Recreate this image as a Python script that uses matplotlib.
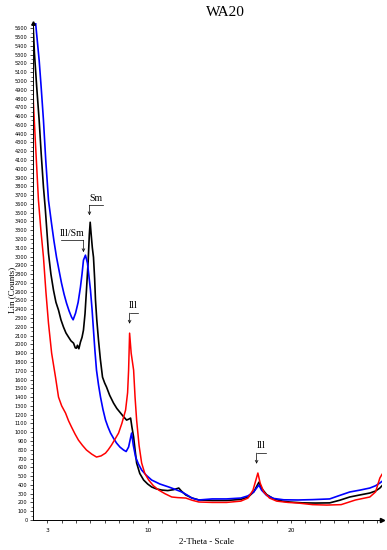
import numpy as np
import matplotlib.pyplot as plt
from matplotlib.ticker import MultipleLocator, FixedLocator, FuncFormatter

# 2-theta (deg) / counts
black_x = [2.00, 2.01, 2.10, 2.26, 2.43, 2.57, 2.73, 2.85, 3.08, 3.25, 3.43, 3.60, 3.78, 3.95,
           4.13, 4.30, 4.48, 4.65, 4.83, 4.95, 5.03, 5.10, 5.20, 5.31, 5.42, 5.52, 5.63, 5.73,
           5.85, 5.93, 5.99, 6.06, 6.14, 6.22, 6.30, 6.36, 6.45, 6.57, 6.70, 6.85, 7.00, 7.13,
           7.35, 7.62, 7.85, 8.11, 8.30, 8.53, 8.70, 8.81, 8.90, 9.02, 9.12, 9.23, 9.45, 9.72,
           10.00, 10.28, 10.60, 10.98, 11.40, 11.80, 12.17, 12.35, 12.66, 13.10, 13.57, 14.5,
           15.5, 16.5, 17.0, 17.4, 17.76, 17.95, 18.3, 18.8, 19.4, 19.9, 20.8, 21.7, 22.7, 23.4,
           24.1, 24.8, 25.5, 25.9, 26.2, 26.35]
black_y = [5800, 5633, 5315, 4928, 4552, 4176, 3790, 3560, 3038, 2800, 2617, 2480, 2390, 2280,
           2196, 2130, 2083, 2040, 2014, 1960, 1957, 1990, 1950, 2026, 2080, 2162, 2350, 2617,
           2950, 3250, 3391, 3250, 3100, 2993, 2750, 2504, 2280, 2048, 1830, 1627, 1560, 1514,
           1420, 1331, 1270, 1218, 1180, 1138, 1150, 1161, 1060, 945, 800, 649, 530, 455,
           410, 376, 355, 341, 335, 345, 364, 330, 285, 250, 228, 222,
           222, 235, 260, 320, 430, 360, 290, 240, 215, 205, 195, 193, 195, 225,
           262, 285, 307, 330, 364, 390]

blue_x = [2.00, 2.19, 2.43, 2.57, 2.73, 2.89, 3.08, 3.29, 3.46, 3.64, 3.82, 3.99, 4.17, 4.34,
          4.52, 4.69, 4.80, 4.97, 5.15, 5.31, 5.42, 5.52, 5.66, 5.80, 5.90, 6.01, 6.12, 6.22,
          6.32, 6.43, 6.57, 6.71, 6.88, 7.06, 7.23, 7.41, 7.62, 7.83, 8.07, 8.32, 8.50, 8.67,
          8.80, 8.88, 9.00, 9.16, 9.35, 9.58, 9.90, 10.28, 10.85, 11.47, 11.90, 12.38, 12.75,
          13.08, 13.57, 14.5, 15.5, 16.5, 17.0, 17.4, 17.76, 17.95, 18.3, 18.8, 19.5, 20.5,
          21.5, 22.7, 23.4, 24.1, 24.8, 25.5, 25.9, 26.2, 26.35]
blue_y = [6300, 5645, 5235, 4928, 4552, 4097, 3642, 3380, 3180, 2993, 2840, 2697, 2570, 2469,
          2380, 2310, 2280, 2356, 2480, 2652, 2800, 2959, 3016, 2925, 2780, 2617, 2400, 2162,
          1930, 1707, 1540, 1400, 1260, 1138, 1060, 990, 930, 876, 830, 797, 780, 831,
          930, 990, 850, 717, 640, 569, 510, 455, 410, 376, 350, 319, 285,
          250, 228, 240, 240, 250, 275, 320, 398, 340, 280, 245, 230, 228,
          232, 240, 280, 319, 340, 364, 390, 421, 440]

red_x = [2.00, 2.03, 2.15, 2.26, 2.38, 2.55, 2.73, 2.90, 3.08, 3.30, 3.57, 3.78, 4.00, 4.27,
         4.48, 4.69, 4.93, 5.17, 5.45, 5.73, 6.10, 6.43, 6.75, 7.06, 7.25, 7.48, 7.72, 7.97,
         8.20, 8.46, 8.60, 8.67, 8.74, 8.85, 9.02, 9.12, 9.23, 9.40, 9.58, 9.80, 10.07, 10.40,
         10.77, 11.20, 11.68, 12.10, 12.66, 13.1, 13.57, 14.5, 15.5, 16.5, 17.0, 17.35, 17.69,
         17.85, 18.1, 18.5, 19.0, 19.8, 20.5, 21.5, 22.5, 23.5, 24.5, 25.5, 25.9, 26.2, 26.35]
red_y = [4900, 4746, 4359, 4017, 3642, 3300, 2993, 2600, 2242, 1900, 1627, 1400, 1300, 1218,
         1130, 1058, 980, 910, 850, 797, 750, 717, 730, 762, 800, 854, 920, 990,
         1100, 1252, 1450, 1707, 2128, 1900, 1707, 1400, 1138, 850, 649, 530, 455, 390,
         341, 300, 262, 255, 250, 225, 205, 200, 200, 215, 250, 340, 535,
         420, 320, 250, 215, 200, 193, 175, 170, 175, 228, 262, 320, 478, 520]

# peak labels: text, arrow x, bracket y, arrow tip y, other end of bracket
peak_labels = [("Sm", 5.94, 3585, 3470, 6.85),
               ("Ill/Sm", 5.52, 3186, 3050, 3.92),
               ("Ill", 8.74, 2356, 2235, 9.30),
               ("Ill", 17.60, 762, 640, 18.23)]

serif = 'Liberation Serif'

fig = plt.figure(figsize=(3.87, 5.5), dpi=100, facecolor='white')
ax = fig.add_axes([33/387, 30/550, 349/387, 497/550])

ax.plot(black_x, black_y, color='black', lw=1.2)
ax.plot(blue_x, blue_y, color='#0000ff', lw=1.2)
ax.plot(red_x, red_y, color='#ff0000', lw=1.1)

ax.set_xlim(2.0, 26.35)
ax.set_ylim(0, 5660)

for s in ['top', 'right']:
    ax.spines[s].set_visible(False)
for s in ['left', 'bottom']:
    ax.spines[s].set_linewidth(0.7)

ax.yaxis.set_major_locator(MultipleLocator(100))
ax.yaxis.set_minor_locator(MultipleLocator(50))
ax.tick_params(axis='y', which='major', labelsize=3.6, length=2.5, width=0.5, pad=1.5)
ax.tick_params(axis='y', which='minor', length=1.5, width=0.4)

ax.xaxis.set_major_locator(FixedLocator(list(range(3, 27))))
ax.xaxis.set_major_formatter(FuncFormatter(lambda v, p: str(int(v)) if int(v) in (3, 10, 20) else ''))
ax.tick_params(axis='x', which='major', labelsize=4.2, length=2.5, width=0.5, pad=3)

# axis end arrows
ax.plot([1], [0], marker='>', color='black', ms=3, transform=ax.transAxes, clip_on=False)
ax.plot([0], [1], marker='^', color='black', ms=2.5, transform=ax.transAxes, clip_on=False)

for text, xa, yb, ytip, xo in peak_labels:
    ax.plot([xa, xo], [yb, yb], color='black', lw=0.5)
    ax.annotate('', xy=(xa, ytip), xytext=(xa, yb),
                arrowprops=dict(arrowstyle='->', lw=0.5, color='black', shrinkA=0, shrinkB=0,
                                mutation_scale=5))
    ax.text((xa + xo) / 2, yb + 30, text, family=serif, fontsize=7, ha='center', va='bottom')

fig.text(225/387, 1 - 12/550, 'WA20', family=serif, fontsize=11, ha='center', va='center')
fig.text(12/387, 1 - 290/550, 'Lin (Counts)', family=serif, fontsize=6.5, rotation=90,
         ha='center', va='center')
fig.text(207/387, 1 - 542/550, '2-Theta - Scale', family=serif, fontsize=6.5,
         ha='center', va='center')

fig.savefig('out.png', dpi=100)
